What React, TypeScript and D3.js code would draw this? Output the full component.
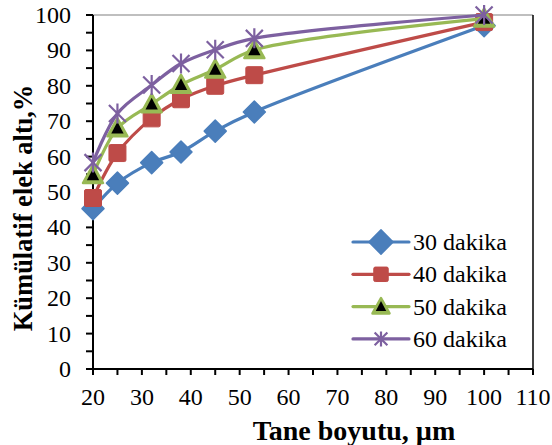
import React from "react";
import * as d3 from "d3";

const sizes = [20, 25, 32, 38, 45, 53, 100];
const seriesNames = ["30 dakika", "40 dakika", "50 dakika", "60 dakika"];
const s30 = [45.3, 52.5, 58.3, 61.3, 67.2, 72.6, 97.0];
const s40 = [48.3, 61.0, 70.8, 76.2, 80.0, 83.0, 98.0];
const s50 = [54.8, 68.0, 74.8, 80.3, 84.6, 90.1, 99.0];
const s60 = [58.3, 72.2, 80.2, 86.3, 90.2, 93.4, 100.0];
const xTicks = [20, 30, 40, 50, 60, 70, 80, 90, 100, 110];
const yTicks = [0, 10, 20, 30, 40, 50, 60, 70, 80, 90, 100];
const colors = ["#4A7EBB", "#BE4B48", "#98B954", "#7D60A0"];
const markers = ["diamond", "square", "triangle", "star"];

const W = 552, H = 445;
const L = 93, R = 533, T = 15, B = 369;
const font = "'Liberation Serif', 'Times New Roman', serif";

function Marker({ type, x, y, color, scale = 1 }: any) {
  if (type === "diamond") {
    const r = 11 * scale;
    return <path d={`M${x},${y - r}L${x + r},${y}L${x},${y + r}L${x - r},${y}Z`} fill={color} stroke={color} strokeWidth={1.5} strokeLinejoin="round" />;
  }
  if (type === "square") {
    const r = 8.5 * scale;
    return <rect x={x - r} y={y - r} width={2 * r} height={2 * r} fill={color} stroke={color} strokeWidth={1} rx={1.5} />;
  }
  if (type === "triangle") {
    const r = 10 * scale;
    const ri = 6.5 * scale;
    return (
      <g>
        <path d={`M${x},${y - r}L${x + r},${y + r * 0.8}L${x - r},${y + r * 0.8}Z`} fill={color} stroke={color} strokeWidth={2.5} strokeLinejoin="round" />
        <path d={`M${x},${y - ri}L${x + ri * 0.95},${y + ri * 0.8}L${x - ri * 0.95},${y + ri * 0.8}Z`} fill="#000" />
      </g>
    );
  }
  const r = 10 * scale;
  const d = r * 0.85;
  return (
    <path d={`M${x - d},${y - d}L${x + d},${y + d}M${x - d},${y + d}L${x + d},${y - d}M${x},${y - r}L${x},${y + r}`} stroke={color} strokeWidth={2.2} fill="none" />
  );
}

export default function App() {
  const x = d3.scaleLinear().domain([20, 110]).range([L, R]);
  const y = d3.scaleLinear().domain([0, 100]).range([B, T]);
  const data = [s30, s40, s50, s60];
  const line = d3
    .line<[number, number]>()
    .x((d) => x(d[0]))
    .y((d) => y(d[1]))
    .curve(d3.curveCatmullRom.alpha(0.5));

  const xMinor = d3.range(20, 111, 5);
  const yMinor = d3.range(0, 101, 5);

  return (
    <svg width={W} height={H} style={{ position: "absolute", left: 0, top: 0, background: "#fff" }} fontFamily={font}>
      <rect width={W} height={H} fill="#fff" />
      <line x1={L} x2={R} y1={T} y2={T} stroke="#808080" strokeWidth={1.2} />
      <line x1={R} x2={R} y1={T} y2={B} stroke="#000" strokeWidth={1.5} />
      <line x1={L} x2={L} y1={T} y2={B + 6} stroke="#000" strokeWidth={2} />
      {yMinor.map((v) => (
        <line key={"ym" + v} x1={L - 7} x2={L} y1={y(v)} y2={y(v)} stroke="#000" strokeWidth={2} />
      ))}
      {yTicks.map((v) => (
        <text key={"yt" + v} x={71} y={y(v) + 8} textAnchor="end" fontSize={24} fill="#000">
          {v}
        </text>
      ))}
      <line x1={L - 7} x2={R} y1={B} y2={B} stroke="#000" strokeWidth={2} />
      {xMinor.map((v) => (
        <line key={"xm" + v} x1={x(v)} x2={x(v)} y1={B} y2={B + 6} stroke="#000" strokeWidth={2} />
      ))}
      {xTicks.map((v) => (
        <text key={"xt" + v} x={x(v)} y={405} textAnchor="middle" fontSize={24} fill="#000">
          {v}
        </text>
      ))}
      <text x={354} y={440} textAnchor="middle" fontSize={28} fontWeight="bold" fill="#000">
        Tane boyutu, µm
      </text>
      <text transform={`translate(32,208) rotate(-90)`} textAnchor="middle" fontSize={26.5} fontWeight="bold" fill="#000">
        Kümülatif elek altı,%
      </text>
      {data.map((vals, i) => {
        const pts: [number, number][] = sizes.map((s, j) => [s, vals[j]]);
        return (
          <g key={"s" + i}>
            <path d={line(pts) || ""} fill="none" stroke={colors[i]} strokeWidth={3.2} strokeLinecap="round" />
            {pts.map((p, j) => (
              <Marker key={j} type={markers[i]} x={x(p[0])} y={y(p[1])} color={colors[i]} />
            ))}
          </g>
        );
      })}
      {seriesNames.map((n, i) => {
        const cy = 242 + i * 32.3;
        return (
          <g key={"l" + i}>
            <line x1={353} x2={409} y1={cy} y2={cy} stroke={colors[i]} strokeWidth={3.2} strokeLinecap="round" />
            <Marker type={markers[i]} x={381} y={cy} color={colors[i]} scale={i === 0 ? 1.1 : i === 3 ? 0.75 : 0.85} />
            <text x={413} y={cy + 8} fontSize={24} fill="#000">
              {n}
            </text>
          </g>
        );
      })}
    </svg>
  );
}
